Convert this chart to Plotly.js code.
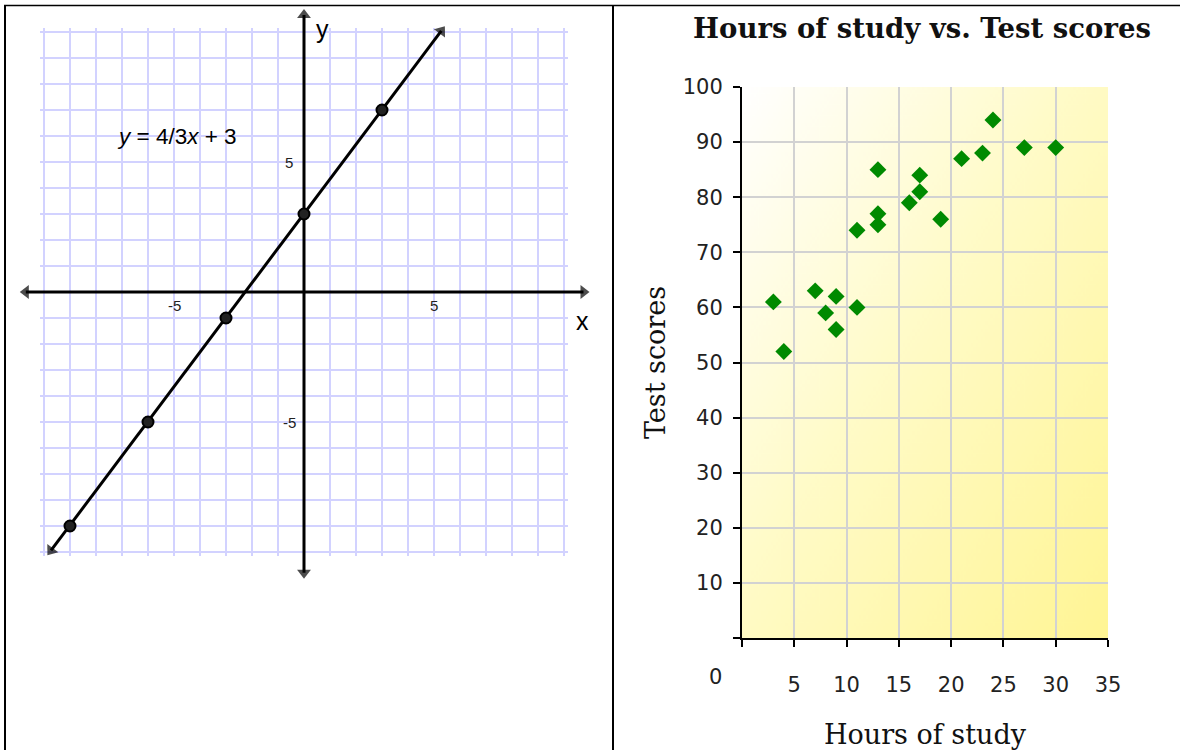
<!DOCTYPE html>
<html><head><meta charset="utf-8">
<script src="https://cdn.plot.ly/plotly-3.0.1.min.js"></script>
<style>html,body{margin:0;padding:0;background:#fff;} #chart{width:1180px;height:750px;}</style>
</head><body><div id="chart"></div>
<script>
// ---------- Left panel: y = 4/3x + 3 ----------
const pointX = [-9, -6, -3, 0, 3];
const pointY = [-9, -5, -1, 3, 7];
const lineX = [-9.73, 5.28];
const lineY = [-9.94, 10.04];
const xAxisEnds = [-10.7, 10.75];
const yAxisEnds = [-10.8, 10.65];
const leftTickVals = [-5, 5];
const leftTickText = ['-5', '5'];
const equationText = '<i>y</i> = 4/3<i>x</i> + 3';

// ---------- Right panel: Hours of study vs. Test scores ----------
const hours  = [3, 4, 7, 8, 9, 9, 11, 11, 13, 13, 13, 16, 17, 17, 19, 21, 23, 24, 27, 30];
const scores = [61, 52, 63, 59, 62, 56, 60, 74, 77, 75, 85, 79, 81, 84, 76, 87, 88, 94, 89, 89];
const xTickVals = [0, 5, 10, 15, 20, 25, 30, 35];
const xTickText = ['', '5', '10', '15', '20', '25', '30', '35'];
const xZeroLabel = '0';
const yTickVals = [0, 10, 20, 30, 40, 50, 60, 70, 80, 90, 100];
const yTickText = ['', '10', '20', '30', '40', '50', '60', '70', '80', '90', '100'];
const chartTitle = 'Hours of study vs. Test scores';
const xTitle = 'Hours of study';
const yTitle = 'Test scores';

// ---------- geometry (pixels) ----------
const W = 1180, H = 750;
const fx = p => p / W, fy = p => 1 - p / H;
const U = 26, CX = 304, CY = 292;            // left grid unit & origin
const GR = 10.15;                            // grid subplot half-range (slightly beyond ±10)
const BX0 = 8, BX1 = 606, BY0 = 8, BY1 = 600;  // overlay region for left drawing
const RX0 = 742, RX1 = 1108, RY0 = 87, RY1 = 638; // right plot area

// gradient background for right plot
const cv = document.createElement('canvas');
cv.width = 300; cv.height = 300;
const cx = cv.getContext('2d');
const g = cx.createLinearGradient(0, 0, 300, 300);
g.addColorStop(0, '#ffffff');
g.addColorStop(0.45, '#fffbc8');
g.addColorStop(1, '#fff594');
cx.fillStyle = g; cx.fillRect(0, 0, 300, 300);
const bgURL = cv.toDataURL('image/png');

const rev = a => a.slice().reverse();
function arrowPair(xs, ys, width, size) {
  const mk = {symbol: 'triangle-up', angleref: 'previous', size: [0, size], color: '#000', line: {width: 0}};
  return [
    {x: xs, y: ys, xaxis: 'x3', yaxis: 'y3', mode: 'lines+markers', hoverinfo: 'skip', showlegend: false,
     line: {color: '#000', width: width}, marker: mk},
    {x: rev(xs), y: rev(ys), xaxis: 'x3', yaxis: 'y3', mode: 'markers', hoverinfo: 'skip', showlegend: false,
     marker: mk}
  ];
}

const traces = [
  // grid subplot placeholder
  {x: [0], y: [0], xaxis: 'x', yaxis: 'y', mode: 'markers', marker: {opacity: 0}, hoverinfo: 'skip', showlegend: false},
  ...arrowPair(xAxisEnds, [0, 0], 3, 12),
  ...arrowPair([0, 0], yAxisEnds, 3, 12),
  ...arrowPair(lineX, lineY, 3, 12),
  {x: pointX, y: pointY, xaxis: 'x3', yaxis: 'y3', mode: 'markers', hoverinfo: 'skip', showlegend: false,
   marker: {symbol: 'circle', size: 11, color: '#222', line: {color: '#000', width: 2}}},
  // right scatter
  {x: hours, y: scores, xaxis: 'x2', yaxis: 'y2', mode: 'markers', showlegend: false,
   marker: {symbol: 'diamond', size: 13, color: '#008a00', line: {width: 0}}}
];

const leftFont = {family: 'Liberation Sans, Arial, sans-serif', color: '#000'};
const annotations = [
  {xref: 'x3', yref: 'y3', x: -4.9, y: 6.0, text: equationText, showarrow: false,
   font: Object.assign({}, leftFont, {size: 22.5})},
  {xref: 'x3', yref: 'y3', x: 0.72, y: 10.1, text: 'y', showarrow: false,
   font: Object.assign({}, leftFont, {size: 25})},
  {xref: 'x3', yref: 'y3', x: 10.72, y: -1.1, text: 'x', showarrow: false,
   font: Object.assign({}, leftFont, {size: 25})},
  {xref: 'x2', yref: 'y2', x: 0, y: 0, text: xZeroLabel, showarrow: false, xshift: -27, yshift: -39,
   font: {family: 'DejaVu Sans, sans-serif', size: 21, color: '#222'}}
];
leftTickVals.forEach((v, i) => {
  annotations.push({xref: 'x3', yref: 'y3', x: v, y: 0, text: leftTickText[i], showarrow: false, yshift: -13,
    font: Object.assign({}, leftFont, {size: 15, color: '#222'})});
  annotations.push({xref: 'x3', yref: 'y3', x: 0, y: v, text: leftTickText[i], showarrow: false, xshift: -15,
    font: Object.assign({}, leftFont, {size: 15, color: '#222'})});
});

const borderLine = {color: '#000', width: 2};
const tickFont = {family: 'DejaVu Sans, sans-serif', size: 21, color: '#222'};
const axTitleFont = {family: 'DejaVu Serif, serif', size: 27, color: '#111'};
const layout = {
  width: W, height: H,
  margin: {l: 0, r: 0, t: 0, b: 0},
  paper_bgcolor: '#ffffff', plot_bgcolor: 'rgba(0,0,0,0)',
  showlegend: false,
  title: {text: '<b>' + chartTitle + '</b>', x: fx(922), xref: 'paper', xanchor: 'center',
          y: fy(28), yref: 'paper', yanchor: 'middle',
          font: {family: 'DejaVu Serif, serif', size: 27.5, color: '#111'}},
  // left grid
  xaxis: {domain: [fx(CX - GR * U), fx(CX + GR * U)], range: [-GR, GR], anchor: 'y', dtick: 1, tick0: 0,
          showgrid: true, gridcolor: '#d2d2ff', gridwidth: 2.5, zeroline: false, showline: false,
          showticklabels: false, ticks: '', fixedrange: true},
  yaxis: {domain: [fy(CY + GR * U), fy(CY - GR * U)], range: [-GR, GR], anchor: 'x', dtick: 1, tick0: 0,
          showgrid: true, gridcolor: '#d2d2ff', gridwidth: 2.5, zeroline: false, showline: false,
          showticklabels: false, ticks: '', fixedrange: true},
  // left overlay drawing (same scale)
  xaxis3: {domain: [fx(BX0), fx(BX1)], range: [(BX0 - CX) / U, (BX1 - CX) / U], anchor: 'y3', visible: false, fixedrange: true},
  yaxis3: {domain: [fy(BY1), fy(BY0)], range: [(CY - BY1) / U, (CY - BY0) / U], anchor: 'x3', visible: false, fixedrange: true},
  // right scatter
  xaxis2: {domain: [fx(RX0), fx(RX1)], range: [0, 35], anchor: 'y2',
           tickvals: xTickVals, ticktext: xTickText, ticks: 'outside', ticklen: 7, tickwidth: 2, tickcolor: '#000',
           ticklabelstandoff: 20,
           showline: true, linecolor: '#000', linewidth: 2, zeroline: false,
           showgrid: true, gridcolor: '#d2d2d2', gridwidth: 2,
           tickfont: tickFont,
           title: {text: xTitle, standoff: 30, font: axTitleFont}},
  yaxis2: {domain: [fy(RY1), fy(RY0)], range: [0, 100], anchor: 'x2',
           tickvals: yTickVals, ticktext: yTickText, ticks: 'outside', ticklen: 7, tickwidth: 2, tickcolor: '#000',
           ticklabelstandoff: 6,
           showline: true, linecolor: '#000', linewidth: 2, zeroline: false,
           showgrid: true, gridcolor: '#d2d2d2', gridwidth: 2,
           tickfont: tickFont,
           title: {text: yTitle, standoff: 9, font: axTitleFont}},
  images: [{source: bgURL, xref: 'x2', yref: 'y2', x: 0, y: 100, sizex: 35, sizey: 100,
            sizing: 'stretch', layer: 'below', xanchor: 'left', yanchor: 'top'}],
  shapes: [
    {type: 'line', xref: 'paper', yref: 'paper', x0: fx(4), x1: fx(1180), y0: fy(5.5), y1: fy(5.5), line: {color: '#000', width: 1.5}},
    {type: 'line', xref: 'paper', yref: 'paper', x0: fx(5), x1: fx(5), y0: fy(5), y1: 0, line: borderLine},
    {type: 'line', xref: 'paper', yref: 'paper', x0: fx(613), x1: fx(613), y0: fy(5), y1: 0, line: borderLine}
  ],
  annotations: annotations
};

Plotly.newPlot('chart', traces, layout, {staticPlot: true, displayModeBar: false});
</script>
</body></html>
